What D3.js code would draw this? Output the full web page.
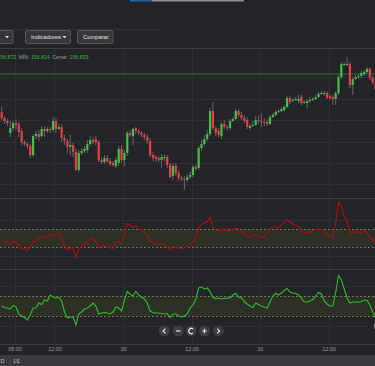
<!DOCTYPE html>
<html>
<head>
<meta charset="utf-8">
<script src="https://cdn.jsdelivr.net/npm/d3@7"></script>
<style>
html, body { margin: 0; padding: 0; background: #232427; overflow: hidden; }
svg { display: block; font-family: "Liberation Sans", "Open Sans", sans-serif; }
</style>
</head>
<body>
<div id="chart"></div>
<script>
// 30 minute candles, first one starts 29 May 02:30
const candleStart = new Date(2024, 4, 29, 2, 30);
const candleMinutes = 30;

const opens = [
    156.46,156.40,156.37,156.25,156.30,156.35,156.34,156.27,156.16,156.14,
    156.12,156.03,156.22,156.24,156.22,156.29,156.27,156.29,156.28,156.37,
    156.29,156.31,156.20,156.17,156.11,156.13,156.06,155.88,156.05,156.07,
    156.08,156.14,156.18,156.19,156.16,155.98,155.96,156.00,155.97,155.95,
    155.92,155.95,156.09,155.98,156.05,156.25,156.22,156.30,156.27,156.25,
    156.23,156.21,156.17,156.03,156.01,156.00,155.98,156.00,156.01,155.93,
    155.82,155.92,155.85,155.80,155.79,155.78,155.81,155.83,155.91,155.90,
    156.10,156.14,156.19,156.24,156.47,156.30,156.27,156.22,156.34,156.31,
    156.30,156.37,156.39,156.47,156.43,156.40,156.38,156.30,156.32,156.33,
    156.38,156.37,156.36,156.36,156.34,156.41,156.43,156.46,156.47,156.48,
    156.51,156.60,156.57,156.58,156.57,156.61,156.55,156.55,156.57,156.58,
    156.59,156.61,156.64,156.64,156.65,156.62,156.61,156.59,156.65,156.81,
    156.93,156.93,156.94,156.73,156.79,156.81,156.82,156.84,156.86,156.89,
    156.80,156.76
];
const highs = [
    156.52,156.42,156.39,156.37,156.37,156.39,156.36,156.30,156.18,156.16,
    156.14,156.24,156.27,156.28,156.32,156.32,156.31,156.31,156.41,156.40,
    156.34,156.34,156.23,156.19,156.23,156.15,156.10,156.08,156.10,156.12,
    156.18,156.22,156.21,156.22,156.18,156.01,156.03,156.03,156.00,155.97,
    156.01,156.12,156.13,156.08,156.27,156.28,156.30,156.31,156.29,156.27,
    156.25,156.24,156.20,156.06,156.03,156.02,156.04,156.04,156.03,155.95,
    155.95,155.95,155.88,155.82,155.82,155.84,155.86,155.93,155.93,156.12,
    156.18,156.23,156.28,156.50,156.56,156.32,156.30,156.36,156.38,156.33,
    156.39,156.41,156.49,156.49,156.46,156.43,156.41,156.34,156.37,156.42,
    156.43,156.45,156.40,156.39,156.43,156.45,156.48,156.49,156.51,156.53,
    156.62,156.62,156.60,156.61,156.63,156.63,156.58,156.59,156.61,156.61,
    156.63,156.66,156.67,156.67,156.67,156.64,156.63,156.67,156.83,156.96,
    156.96,157.01,156.96,156.81,156.83,156.84,156.87,156.88,156.91,156.91,
    156.82,156.79
];
const lows = [
    156.38,156.34,156.32,156.21,156.27,156.28,156.21,156.13,156.12,156.09,
    156.00,156.01,156.19,156.17,156.20,156.21,156.25,156.25,156.26,156.25,
    156.28,156.16,156.13,156.05,156.03,156.01,155.87,155.86,156.03,156.05,
    156.05,156.12,156.14,156.13,155.96,155.94,155.94,155.95,155.92,155.91,
    155.90,155.92,155.95,155.92,156.02,156.21,156.13,156.24,156.23,156.21,
    156.18,156.14,156.01,155.97,155.96,155.96,155.90,155.97,155.90,155.80,
    155.78,155.82,155.77,155.77,155.68,155.76,155.79,155.81,155.87,155.88,
    156.07,156.12,156.17,156.22,156.28,156.22,156.21,156.19,156.29,156.28,
    156.28,156.36,156.38,156.41,156.38,156.35,156.29,156.28,156.31,156.32,
    156.34,156.31,156.32,156.32,156.33,156.40,156.42,156.45,156.46,156.46,
    156.50,156.54,156.56,156.57,156.55,156.53,156.54,156.50,156.55,156.57,
    156.58,156.60,156.63,156.62,156.59,156.58,156.53,156.53,156.63,156.79,
    156.92,156.92,156.70,156.63,156.78,156.79,156.80,156.82,156.85,156.78,
    156.74,156.66
];
const closes = [
    156.40,156.37,156.35,156.30,156.35,156.33,156.26,156.16,156.14,156.12,
    156.03,156.22,156.24,156.21,156.29,156.27,156.29,156.28,156.37,156.29,
    156.31,156.20,156.17,156.11,156.13,156.06,155.88,156.05,156.07,156.09,
    156.14,156.18,156.16,156.16,155.98,155.96,156.00,155.97,155.94,155.93,
    155.98,156.09,155.98,156.05,156.25,156.23,156.29,156.27,156.25,156.23,
    156.21,156.17,156.03,156.00,155.99,155.98,156.01,156.01,155.93,155.81,
    155.92,155.85,155.80,155.79,155.78,155.81,155.83,155.91,155.89,156.10,
    156.14,156.19,156.24,156.47,156.30,156.25,156.23,156.34,156.31,156.30,
    156.37,156.39,156.47,156.43,156.40,156.37,156.31,156.32,156.33,156.38,
    156.37,156.36,156.35,156.34,156.41,156.43,156.46,156.47,156.49,156.51,
    156.60,156.56,156.58,156.59,156.59,156.55,156.56,156.57,156.58,156.59,
    156.61,156.64,156.65,156.65,156.60,156.60,156.59,156.65,156.81,156.94,
    156.94,156.94,156.73,156.79,156.81,156.82,156.85,156.86,156.89,156.80,
    156.76,156.68
];

// oscillator panels (band at +/-100)
const oscRed = [
    -28,-39,-67,-78,-44,-39,-78,-122,-122,-144,
    -100,-39,-33,0,11,0,11,44,22,33,
    56,11,-89,-128,-111,-111,-211,-122,-89,-67,
    -44,-22,-6,-44,-111,-89,-83,-100,-111,-117,
    -44,-44,-67,44,161,139,117,139,105,89,
    67,33,-33,-56,-67,-67,-67,-67,-100,-133,
    -94,-105,-111,-117,-111,-89,-67,-44,-11,111,
    150,167,178,233,122,89,78,100,94,89,
    78,94,111,100,78,44,28,11,33,33,
    22,11,11,56,100,122,128,111,144,178,
    205,178,155,144,128,94,61,56,67,78,
    94,100,94,67,33,22,11,167,394,355,
    244,189,56,67,67,67,56,78,56,11,
    -22,-56
];
const oscGreen = [
    0,-15,-20,-30,5,-10,-80,-100,-115,-140,
    -90,-20,-20,30,15,60,50,110,90,80,
    85,50,-60,-120,-110,-110,-190,-80,-60,-30,
    -20,0,30,0,-80,-70,-65,-70,-80,-60,
    -10,-20,-50,60,145,120,100,145,110,90,
    70,30,-50,-65,-70,-70,-75,-80,-75,-115,
    -80,-80,-100,-110,-100,-80,-20,10,70,180,
    190,170,180,140,90,70,80,70,75,80,
    80,110,125,90,80,45,20,0,-15,30,
    15,0,-10,-20,40,100,125,110,130,155,
    175,140,130,125,110,80,40,40,50,65,
    100,135,120,50,20,0,0,130,305,260,
    170,80,30,40,40,40,45,60,55,10,
    -60,-120
];
const oscBand = [-100, 100];
const oscGrid = [-200, 0, 200];

const priceTicks = [156.81, 156.595, 156.38, 156.165, 155.95, 155.735];
const lastPrice = 156.839;

const tickTimes = [
    new Date(2024, 4, 29, 5), new Date(2024, 4, 29, 12),
    new Date(2024, 4, 30, 0), new Date(2024, 4, 30, 12),
    new Date(2024, 4, 31, 0), new Date(2024, 4, 31, 12)
];
const tickLabels = ["05:00", "12:00", "30", "12:00", "31", "12:00"];

const legendParts = ["56.872", "MÍN", "156.814", "Cerrar", "156.839"];
const toolbarLabels = ["", "Indicadores", "Comparar"];
const periodLabels = ["D", "1S"];

const W = 375, H = 366;
const C = {
    bg: "#232427",
    grid: "#2e2f33",
    sep: "#3b3c40",
    up: "#45c044",
    down: "#ee3d48",
    wick: "#6c6c6c",
    band: "#2d3123",
    bandLine: "#75756a",
    red: "#9c1111",
    green: "#2fbf2c",
    text: "#9d9d9d"
};
const panel = {
    main: [49, 198],
    red: [199, 269],
    green: [270, 344]
};

const svg = d3.select("#chart").append("svg")
    .attr("width", W).attr("height", H);
svg.append("rect").attr("width", W).attr("height", H).attr("fill", C.bg);

const x = d3.scaleTime()
    .domain([new Date(2024, 4, 29, 0), new Date(2024, 5, 1, 0)])
    .range([-14, 397]);
const yMain = d3.scaleLinear().domain([157.58, 155.58]).range([0, 200]);
const yRed = d3.scaleLinear().domain([-100, 100]).range([247, 229]);
const yGreen = d3.scaleLinear().domain([-100, 100]).range([316, 296]);

const candles = closes.map((c, i) => ({
    t: d3.timeMinute.offset(candleStart, i * candleMinutes),
    o: opens[i], h: highs[i], l: lows[i], c: c,
    r: oscRed[i], g: oscGreen[i]
}));
const cx = d => x(d3.timeMinute.offset(d.t, candleMinutes / 2));

// clip paths per panel
const defs = svg.append("defs");
Object.entries(panel).forEach(([k, p]) => {
    defs.append("clipPath").attr("id", "clip-" + k)
        .append("rect").attr("x", 0).attr("y", p[0]).attr("width", W).attr("height", p[1] - p[0]);
});

// vertical grid
svg.append("g").selectAll("line").data(tickTimes).enter().append("line")
    .attr("x1", d => Math.round(x(d)) + 0.5).attr("x2", d => Math.round(x(d)) + 0.5)
    .attr("y1", panel.main[0]).attr("y2", panel.green[1])
    .attr("stroke", C.grid);

// horizontal grid, main
svg.append("g").selectAll("line").data(priceTicks).enter().append("line")
    .attr("x1", 0).attr("x2", W)
    .attr("y1", d => Math.round(yMain(d)) + 0.5).attr("y2", d => Math.round(yMain(d)) + 0.5)
    .attr("stroke", C.grid);

// oscillator panels: band, grid, dashed limits
function drawOscFrame(y) {
    let g = svg.append("g");
    g.append("rect").attr("x", 0).attr("width", W)
        .attr("y", y(oscBand[1])).attr("height", y(oscBand[0]) - y(oscBand[1]))
        .attr("fill", C.band);
    g.selectAll(".grid").data(oscGrid).enter().append("line")
        .attr("x1", 0).attr("x2", W)
        .attr("y1", d => Math.round(y(d)) + 0.5).attr("y2", d => Math.round(y(d)) + 0.5)
        .attr("stroke", C.grid);
    g.selectAll(".lim").data(oscBand).enter().append("line")
        .attr("x1", 0).attr("x2", W)
        .attr("y1", d => Math.round(y(d)) + 0.5).attr("y2", d => Math.round(y(d)) + 0.5)
        .attr("stroke", C.bandLine).attr("stroke-dasharray", "2,2");
}
drawOscFrame(yRed);
drawOscFrame(yGreen);

// last price line
svg.append("line").attr("x1", 0).attr("x2", W)
    .attr("y1", yMain(lastPrice)).attr("y2", yMain(lastPrice))
    .attr("stroke", "#2f5a29").attr("stroke-width", 1.5);

// candles
let cg = svg.append("g").attr("clip-path", "url(#clip-main)");
cg.selectAll(".wick").data(candles).enter().append("line")
    .attr("class", "wick")
    .attr("x1", cx).attr("x2", cx)
    .attr("y1", d => yMain(d.h)).attr("y2", d => yMain(d.l))
    .attr("stroke", C.wick).attr("stroke-width", 0.9);
cg.selectAll(".body").data(candles).enter().append("rect")
    .attr("class", "body")
    .attr("x", d => cx(d) - 1.1).attr("width", 2.2)
    .attr("y", d => yMain(Math.max(d.o, d.c)))
    .attr("height", d => Math.max(1, Math.abs(yMain(d.o) - yMain(d.c))))
    .attr("fill", d => d.c >= d.o ? C.up : C.down);

// oscillator lines
svg.append("path").datum(candles)
    .attr("clip-path", "url(#clip-red)")
    .attr("fill", "none").attr("stroke", C.red).attr("stroke-width", 1.3)
    .attr("d", d3.line().x(cx).y(d => yRed(d.r)));
svg.append("path").datum(candles)
    .attr("clip-path", "url(#clip-green)")
    .attr("fill", "none").attr("stroke", C.green).attr("stroke-width", 1.1)
    .attr("d", d3.line().x(cx).y(d => yGreen(d.g)));

// panel separators
[48, 198, 269, 344].forEach(yy => {
    svg.append("line").attr("x1", 0).attr("x2", W)
        .attr("y1", yy + 0.5).attr("y2", yy + 0.5)
        .attr("stroke", C.sep);
});

// time axis
let ax = svg.append("g").attr("transform", `translate(0,${panel.green[1]})`)
    .call(d3.axisBottom(x).tickValues(tickTimes)
        .tickFormat((d, i) => tickLabels[i]).tickSize(0).tickPadding(3));
ax.select(".domain").remove();
ax.selectAll("text").attr("fill", C.text).attr("font-size", 5.5)
    .attr("font-family", "Liberation Sans, sans-serif");

// bottom period bar
svg.append("rect").attr("x", 0).attr("y", 355).attr("width", W).attr("height", 11).attr("fill", "#3a3b3e");
svg.append("g").selectAll("text").data(periodLabels).enter().append("text")
    .attr("x", (d, i) => i === 0 ? 0.5 : 13)
    .attr("y", 362.5)
    .attr("fill", "#bdbdbd").attr("font-size", 5.5)
    .text(d => d);

// zoom/scroll buttons
const navX = [164.3, 178.3, 191.2, 204.5, 218.4];
const navGlyphs = [
    "M1.2,-2.4L-1.2,0L1.2,2.4",
    "M-2.3,0H2.3",
    "M1.9,-1.9A2.6,2.6 0 1 0 1.9,1.9",
    "M-2.3,0H2.3M0,-2.3V2.3",
    "M-1.2,-2.4L1.2,0L-1.2,2.4"
];
let nav = svg.append("g").selectAll("g").data(navGlyphs).enter().append("g")
    .attr("transform", (d, i) => `translate(${navX[i]},331)`);
nav.append("circle").attr("r", 5.6).attr("fill", "#3c3d41");
nav.append("path").attr("d", d => d).attr("fill", "none")
    .attr("stroke", "#e6e6e6").attr("stroke-width", 1.2);
svg.append("circle").attr("cx", 380).attr("cy", 326).attr("r", 5.6)
    .attr("fill", "none").attr("stroke", "#8a8a8a").attr("stroke-width", 1);

// legend row, laid out one after another
let lg = svg.append("g").attr("font-size", 5.2);
let lx = 0.3;
legendParts.forEach((t, i) => {
    let el = lg.append("text").attr("x", lx).attr("y", 58.5)
        .attr("fill", i % 2 === 0 ? "#3fb33b" : "#9a9a9a")
        .text(t);
    lx += el.node().getComputedTextLength() + 2.6;
});

// top strip + toolbar
svg.append("rect").attr("x", 130).attr("y", 0).attr("width", 22).attr("height", 1.5).attr("fill", "#2663ad");
svg.append("rect").attr("x", 152).attr("y", 0).attr("width", 92).attr("height", 1.5).attr("fill", "#8c8c8c");
svg.append("line").attr("x1", 0).attr("x2", 162).attr("y1", 29.5).attr("y2", 29.5).attr("stroke", "#303135");

const btnX = [-5, 25.5, 77.5];
const btnW = [18, 45, 35.5];
let btn = svg.append("g").selectAll("g").data(toolbarLabels).enter().append("g")
    .attr("transform", (d, i) => `translate(${btnX[i]},30.5)`);
btn.append("rect").attr("width", (d, i) => btnW[i]).attr("height", 13).attr("rx", 1.5)
    .attr("fill", "#36373b").attr("stroke", "#55565b");
btn.append("text").attr("x", 5.5).attr("y", 8.8)
    .attr("fill", "#e2e2e2").attr("font-size", 5.8)
    .text(d => d);
btn.filter((d, i) => i < 2).append("path")
    .attr("d", (d, i) => {
        let tx = i === 0 ? 12 : 39;
        return `M${tx - 2},5.5L${tx + 2},5.5L${tx},7.8Z`;
    })
    .attr("fill", "#e2e2e2");
</script>
</body>
</html>
